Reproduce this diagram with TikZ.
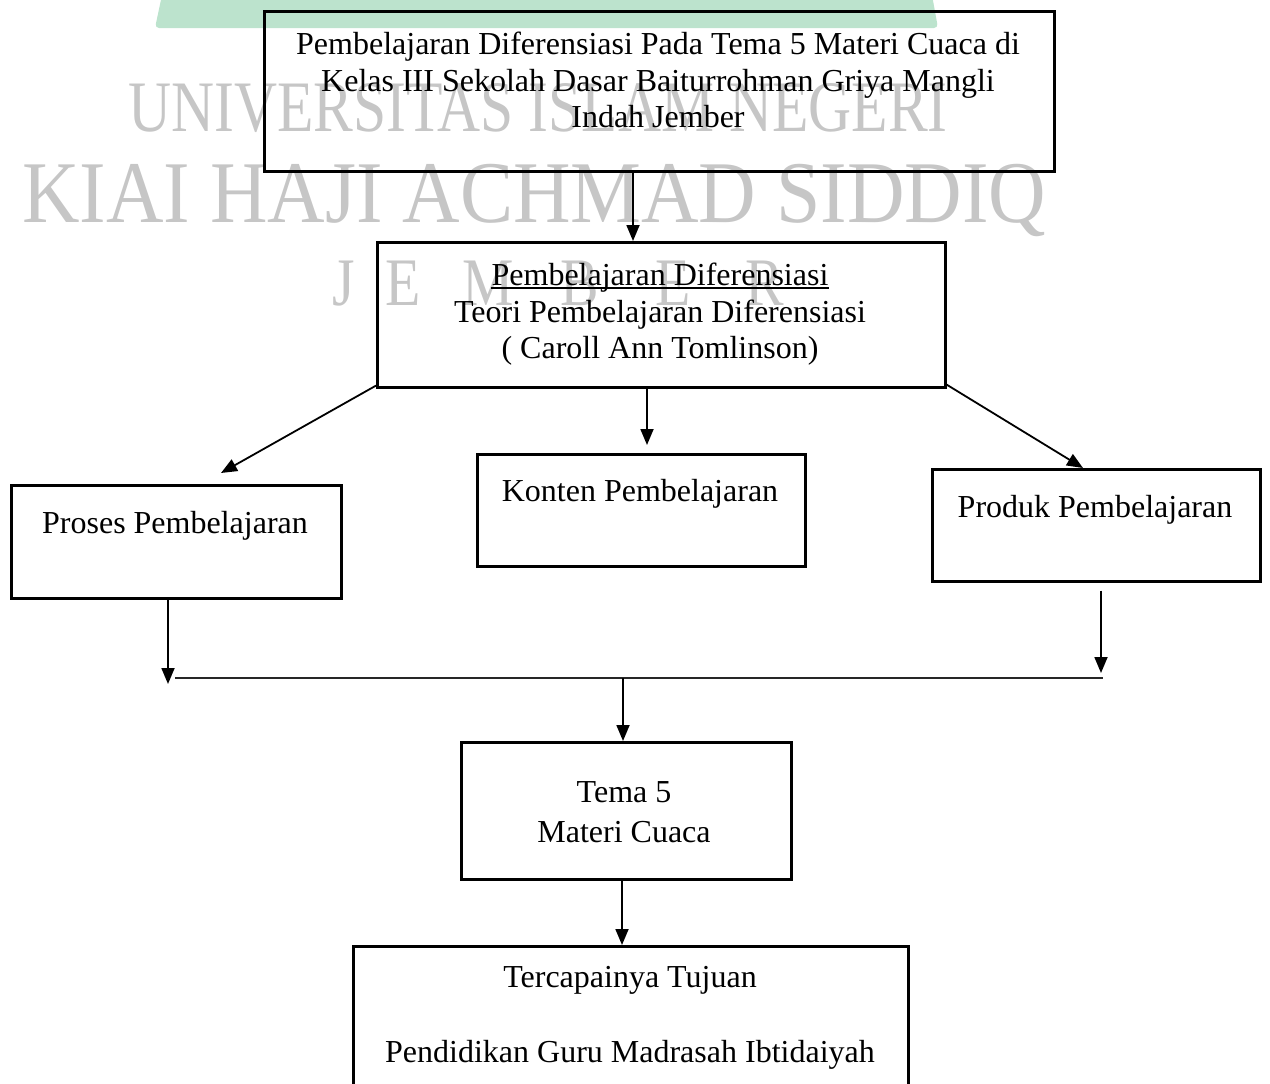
\documentclass[tikz,border=0pt]{standalone}
\usepackage{fontspec}
\setmainfont{Liberation Serif}
\usetikzlibrary{arrows.meta}
\definecolor{wm}{RGB}{198,198,198}
\definecolor{logogreen}{RGB}{188,227,205}
\tikzset{
  boxs/.style={draw=black, line width=2.6pt, inner sep=0pt, anchor=north west},
  txt/.style={inner sep=0pt, anchor=base, font=\fontsize{32}{37}\selectfont},
  arr/.style={line width=1.8pt, -{Triangle[length=16pt,width=13pt]}},
  thinline/.style={line width=1.3pt, black!85},
  wmark/.style={inner sep=0pt, anchor=base west, text=wm},
}
\begin{document}
\begin{tikzpicture}[x=1pt,y=-1pt]
\useasboundingbox (0,0) rectangle (1270,1084);

% background logo fragment and watermark
\fill[logogreen, rounded corners=4pt] (162,-5) -- (932,-5) -- (938,28) -- (155,28) -- cycle;
\node[wmark, font=\fontsize{72.5}{80}\selectfont] (w1) at (128,131) {\scalebox{0.822}[1]{UNIVERSITAS ISLAM NEGERI}};
\node[wmark, font=\fontsize{88}{96}\selectfont] (w2) at (22,222) {\scalebox{0.905}[1]{KIAI HAJI ACHMAD SIDDIQ}};
\foreach \l/\x [count=\i] in {J/332,E/385,M/462,B/560,E/655,R/745}
  \node[wmark, font=\fontsize{68}{74}\selectfont] (wj\i) at (\x,305) {\scalebox{0.85}[1]{\l}};

% boxes
\node[boxs, minimum width=790pt, minimum height=160pt] (b1) at (263,10) {};
\node[boxs, minimum width=568pt, minimum height=145pt] (b2) at (376,241) {};
\node[boxs, minimum width=328pt, minimum height=112pt] (bk) at (476,453) {};
\node[boxs, minimum width=330pt, minimum height=113pt] (bp) at (10,484) {};
\node[boxs, minimum width=328pt, minimum height=112pt] (bd) at (931,468) {};
\node[boxs, minimum width=330pt, minimum height=137pt] (bt) at (460,741) {};
\node[boxs, minimum width=555pt, minimum height=150pt] (bz) at (352,945) {};

% texts
\node[txt] (t1a) at (658,54) {Pembelajaran Diferensiasi Pada Tema 5 Materi Cuaca di};
\node[txt] (t1b) at (658,91) {Kelas III Sekolah Dasar Baiturrohman Griya Mangli};
\node[txt] (t1c) at (658,127) {Indah Jember};
\node[txt] (t2a) at (660,285) {Pembelajaran Diferensiasi};
\draw[line width=1.6pt] ([yshift=-3pt]t2a.base west) -- ([yshift=-3pt]t2a.base east);
\node[txt] (t2b) at (660,322) {Teori Pembelajaran Diferensiasi};
\node[txt] (t2c) at (660,358) {( Caroll Ann Tomlinson)};
\node[txt] (tp) at (175,533) {Proses Pembelajaran};
\node[txt] (tk) at (640,501) {Konten Pembelajaran};
\node[txt] (td) at (1095,517) {Produk Pembelajaran};
\node[txt] (tt1) at (624,802) {Tema 5};
\node[txt] (tt2) at (624,842) {Materi Cuaca};
\node[txt] (tz1) at (630,987) {Tercapainya Tujuan};
\node[txt] (tz2) at (630,1062) {Pendidikan Guru Madrasah Ibtidaiyah};

% helper coordinates
\coordinate (c1) at (633,0);
\coordinate (c2) at (647,0);
\coordinate (ptip) at (221,473);
\coordinate (c4) at (1083,0);
\coordinate (c5) at (168,0);
\coordinate (jl) at (168,684);
\coordinate (hl) at (175,678);
\coordinate (hr) at (1103,678);
\coordinate (c7) at (1101,0);
\coordinate (jr) at (1101,673);
\coordinate (hc) at (623,678);
\coordinate (c9) at (622,0);

% connectors
\draw[arr] (b1.south -| c1) -- (b2.north -| c1);
\draw[arr, shorten >=8pt] (b2.south -| c2) -- (bk.north -| c2);
\draw[arr] ([yshift=3pt]b2.south west) -- (ptip);
\draw[arr] ([yshift=4pt]b2.south east) -- (bd.north -| c4);
\draw[arr] (bp.south -| c5) -- (jl);
\draw[thinline] (hl) -- (hr);
\draw[arr, shorten <=8pt] (bd.south -| c7) -- (jr);
\draw[arr] (hc) -- (bt.north -| hc);
\draw[arr] (bt.south -| c9) -- (bz.north -| c9);
\end{tikzpicture}
\end{document}
